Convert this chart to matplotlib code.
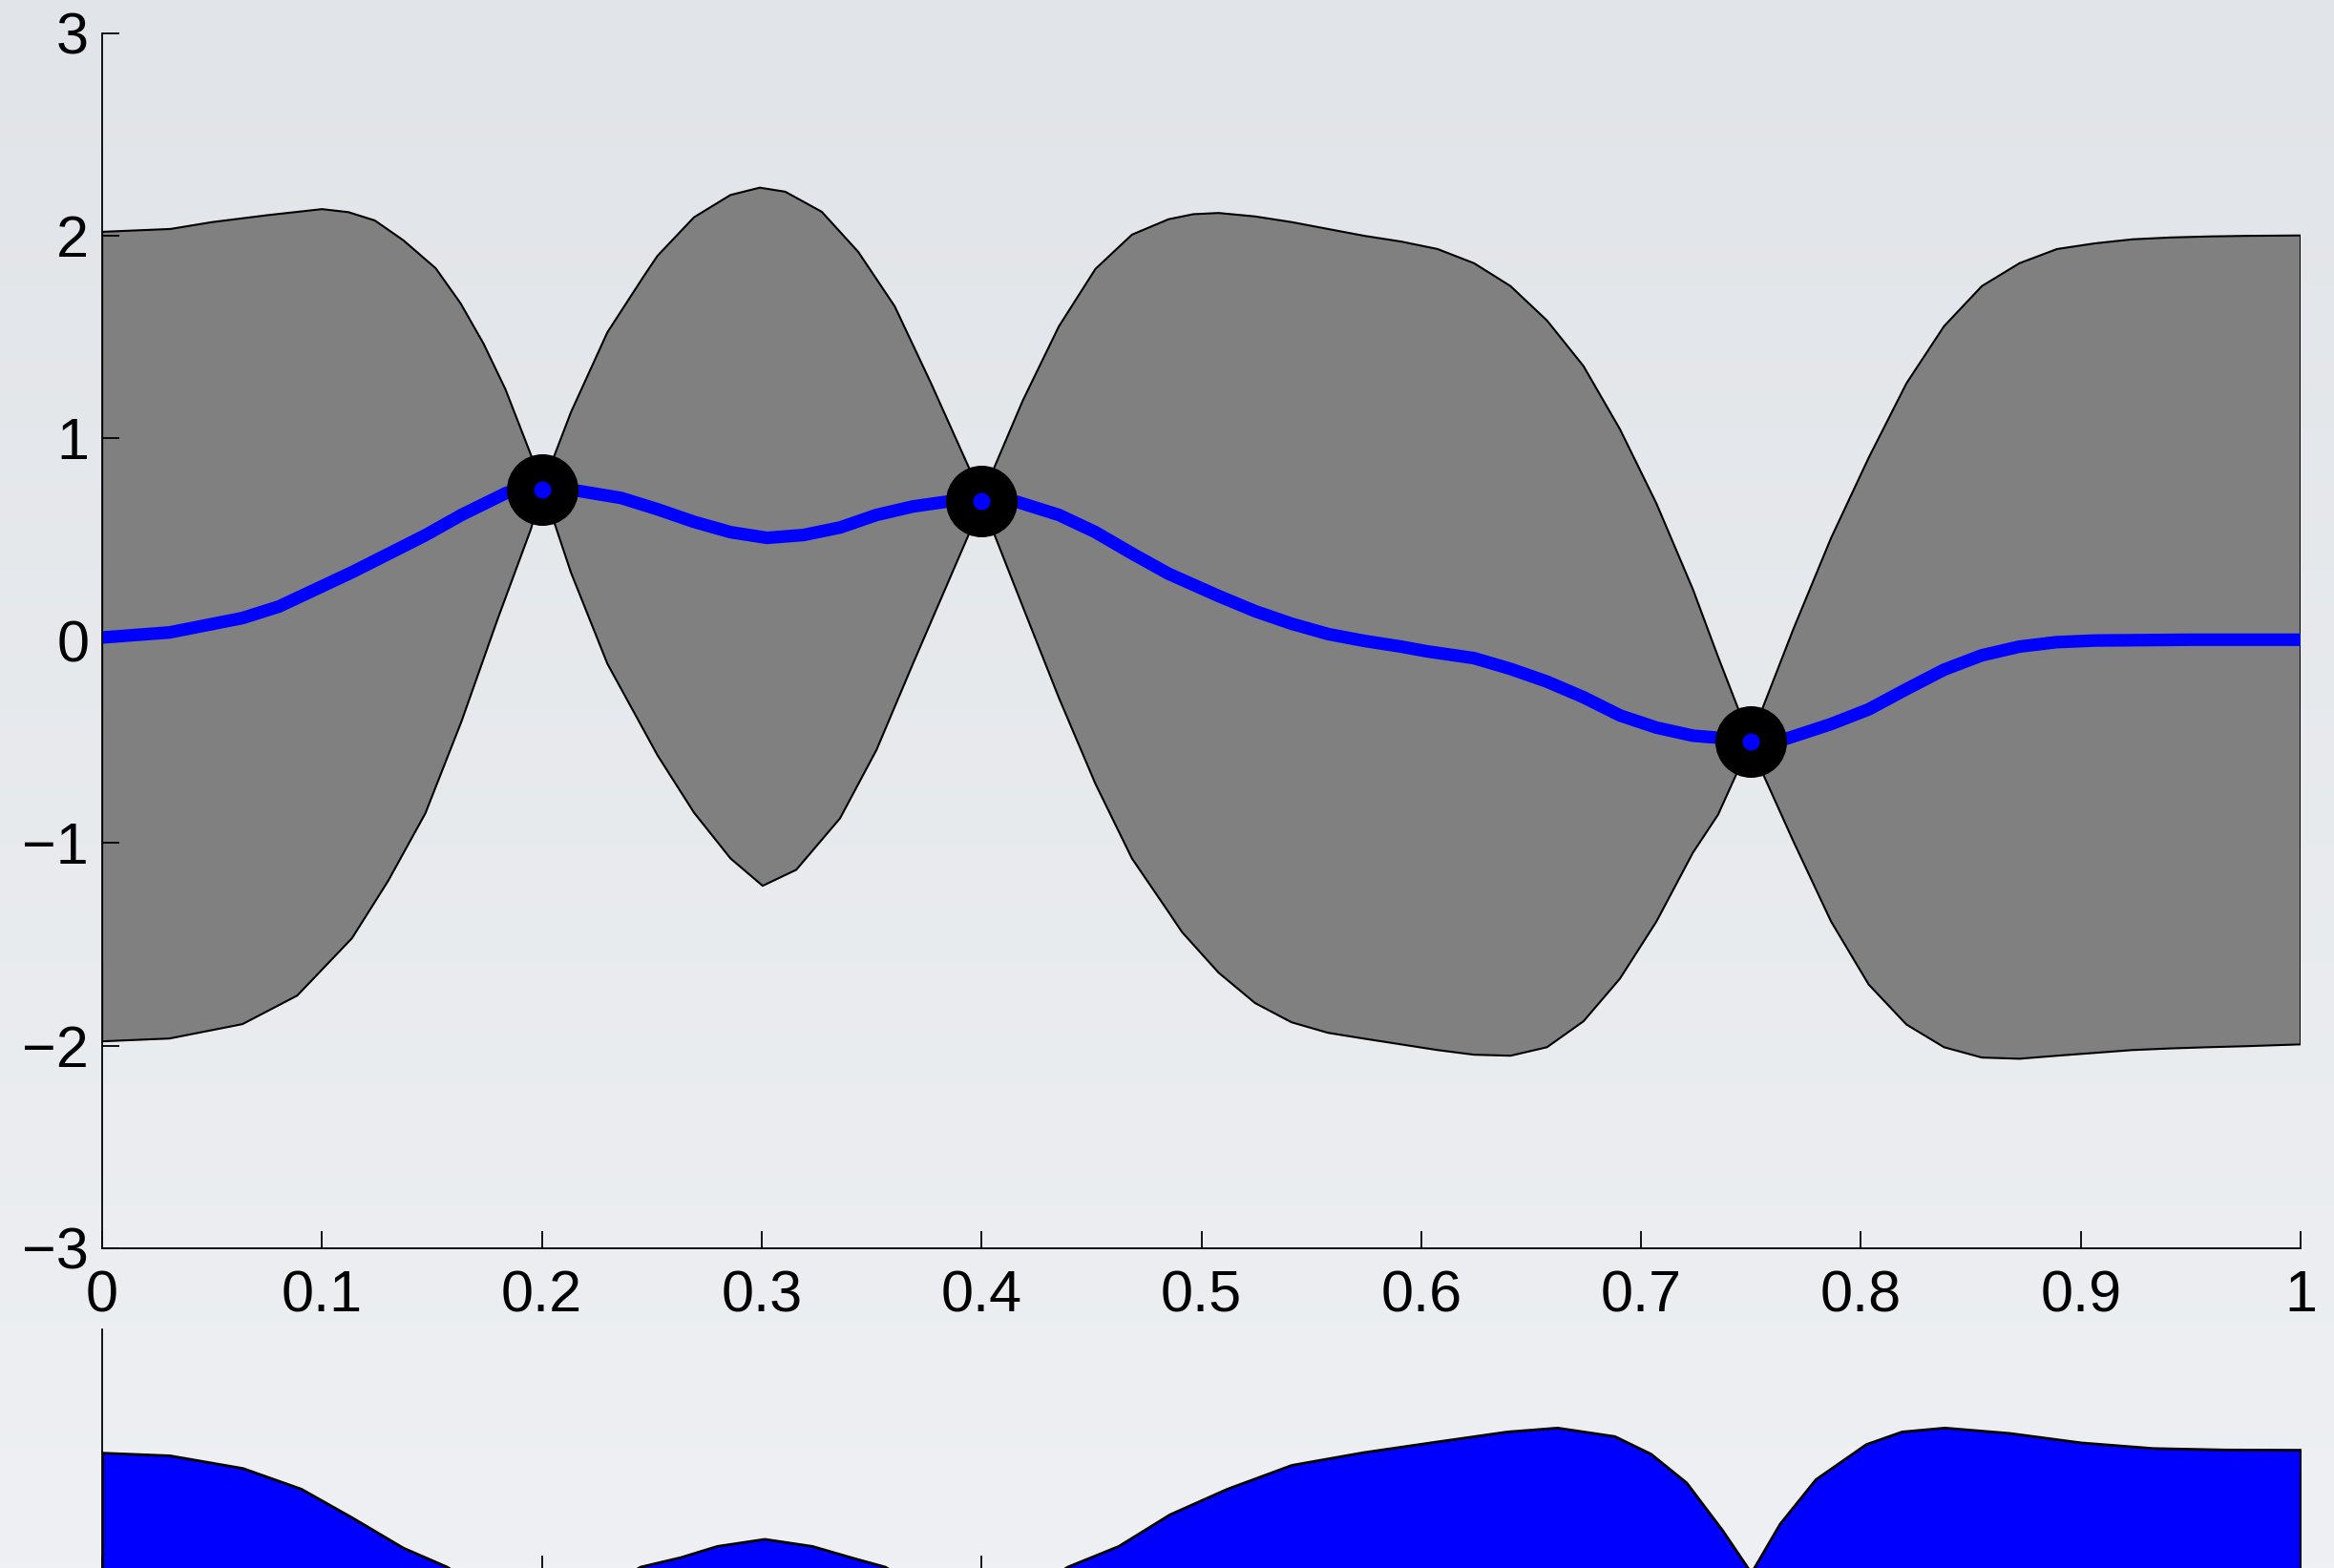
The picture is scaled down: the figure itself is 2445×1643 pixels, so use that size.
import numpy as np
import matplotlib
matplotlib.use("Agg")
import matplotlib.pyplot as plt

plt.rcParams['font.family'] = ['Liberation Sans', 'DejaVu Sans']

# upper edge of the confidence band
xu = [0.0, 0.031, 0.05, 0.075, 0.1, 0.112, 0.124, 0.137, 0.1517, 0.163, 0.1734, 0.1834,
      0.195, 0.2, 0.2058, 0.2132, 0.2298, 0.2464, 0.2526, 0.2692, 0.2858, 0.2991, 0.3107,
      0.3273, 0.3439, 0.3605, 0.3771, 0.3946, 0.4, 0.4054, 0.4187, 0.4352, 0.4518, 0.4684,
      0.485, 0.4963, 0.5078, 0.5244, 0.541, 0.5576, 0.5742, 0.5908, 0.6074, 0.624, 0.6406,
      0.6572, 0.6738, 0.6904, 0.707, 0.7236, 0.735, 0.75, 0.7555, 0.7692, 0.7864, 0.8035,
      0.8207, 0.8378, 0.855, 0.8721, 0.8892, 0.9064, 0.9235, 0.9407, 0.9578, 0.975, 1.0]
yu = [2.018, 2.032, 2.066, 2.10, 2.13, 2.115, 2.074, 1.976, 1.838, 1.665, 1.467, 1.241,
      0.917, 0.745, 0.917, 1.127, 1.522, 1.80, 1.90, 2.09, 2.20, 2.236, 2.216,
      2.117, 1.919, 1.65, 1.268, 0.845, 0.69, 0.845, 1.184, 1.552, 1.835, 2.004,
      2.08, 2.105, 2.111, 2.094, 2.066, 2.032, 1.998, 1.97, 1.933, 1.863, 1.75,
      1.58, 1.355, 1.043, 0.676, 0.252, -0.08, -0.5, -0.327, 0.055, 0.506, 0.902,
      1.27, 1.552, 1.75, 1.863, 1.933, 1.961, 1.981, 1.99, 1.995, 1.998, 2.0]

# lower edge of the confidence band
xl = [0.0, 0.0306, 0.0638, 0.0887, 0.1136, 0.130, 0.147, 0.1634, 0.18, 0.195, 0.2,
      0.2058, 0.2132, 0.2298, 0.2526, 0.2692, 0.2858, 0.3004, 0.3157, 0.3356, 0.3522,
      0.3688, 0.3946, 0.4, 0.4054, 0.4187, 0.4352, 0.4518, 0.4684, 0.485, 0.4912, 0.5078,
      0.5244, 0.541, 0.5576, 0.5742, 0.5908, 0.6074, 0.624, 0.6406, 0.6572, 0.6738, 0.6904,
      0.707, 0.7236, 0.735, 0.75, 0.7555, 0.7692, 0.7864, 0.8035, 0.8207, 0.8378, 0.855,
      0.8721, 0.8892, 0.9064, 0.9235, 0.9407, 0.9578, 0.975, 1.0]
yl = [-1.979, -1.965, -1.894, -1.753, -1.47, -1.188, -0.853, -0.40, 0.11, 0.55, 0.745,
      0.577, 0.336, -0.115, -0.567, -0.85, -1.076, -1.211, -1.132, -0.878, -0.54,
      -0.114, 0.535, 0.69, 0.535, 0.168, -0.284, -0.708, -1.076, -1.34, -1.44, -1.64,
      -1.79, -1.885, -1.937, -1.966, -1.994, -2.022, -2.045, -2.05, -2.008, -1.88, -1.669,
      -1.387, -1.047, -0.86, -0.5, -0.66, -0.99, -1.387, -1.698, -1.896, -2.008, -2.059,
      -2.065, -2.05, -2.036, -2.022, -2.014, -2.008, -2.003, -1.994]

# posterior mean
xm = [0.0, 0.0306, 0.0638, 0.0804, 0.1136, 0.147, 0.1634, 0.184, 0.2, 0.216, 0.236,
      0.2526, 0.2692, 0.2858, 0.3024, 0.319, 0.3356, 0.3522, 0.3688, 0.3837, 0.4, 0.4161,
      0.4352, 0.4518, 0.4684, 0.485, 0.4912, 0.5078, 0.5244, 0.541, 0.5576, 0.5742, 0.5908,
      0.6024, 0.624, 0.6406, 0.6572, 0.6738, 0.6904, 0.707, 0.7236, 0.735, 0.75, 0.766,
      0.786, 0.8035, 0.8207, 0.8378, 0.855, 0.8721, 0.889, 0.9064, 0.95, 1.0]
ym = [0.015, 0.04, 0.111, 0.168, 0.337, 0.52, 0.62, 0.73, 0.745, 0.74, 0.704,
      0.648, 0.586, 0.535, 0.507, 0.521, 0.558, 0.62, 0.662, 0.685, 0.69, 0.685,
      0.62, 0.535, 0.43, 0.33, 0.30, 0.22, 0.145, 0.083, 0.032, -0.002, -0.03,
      -0.053, -0.087, -0.14, -0.203, -0.28, -0.37, -0.43, -0.47, -0.48, -0.5, -0.485,
      -0.414, -0.34, -0.24, -0.144, -0.073, -0.03, -0.008, 0.0, 0.004, 0.004]

# observed points
obs_x = [0.2, 0.4, 0.75]
obs_y = [0.745, 0.69, -0.5]

# lower panel curve
lx = [0.0, 0.0306, 0.0638, 0.0904, 0.1136, 0.1368, 0.1567, 0.175, 0.2, 0.225, 0.2447,
      0.263, 0.2796, 0.3012, 0.3228, 0.3427, 0.356, 0.375, 0.4, 0.42, 0.439, 0.4622,
      0.4855, 0.5116, 0.541, 0.5735, 0.6063, 0.639, 0.6618, 0.6879, 0.7043, 0.7205,
      0.7369, 0.75, 0.763, 0.7793, 0.8022, 0.8185, 0.838, 0.8675, 0.9001, 0.9328,
      0.9654, 1.0]
ly = [0.493, 0.482, 0.430, 0.345, 0.227, 0.103, 0.025, -0.08, -0.3, -0.08, 0.025,
      0.064, 0.11, 0.139, 0.11, 0.058, 0.025, -0.08, -0.3, -0.08, 0.025, 0.11,
      0.24, 0.345, 0.443, 0.495, 0.538, 0.58, 0.596, 0.561, 0.489, 0.371,
      0.175, 0.0, 0.201, 0.384, 0.528, 0.58, 0.596, 0.574, 0.535, 0.512,
      0.506, 0.505]

fig = plt.figure(figsize=(24.45, 16.43), dpi=100)

# background gradient
bg = fig.add_axes([0, 0, 1, 1], zorder=-10)
grad = np.linspace(0, 1, 256).reshape(-1, 1)
bg.imshow(grad, aspect='auto', cmap=matplotlib.colors.LinearSegmentedColormap.from_list(
    'bgc', ['#e1e4e8', '#eef0f3']), extent=[0, 1, 0, 1])
bg.axis('off')

ax = fig.add_axes([0.0438, 0.204, 0.9419, 0.775])
ax.patch.set_alpha(0)
band_x = xu + xl[::-1]
band_y = yu + yl[::-1]
ax.fill(band_x, band_y, facecolor='#808080', edgecolor='black', linewidth=1.5,
        joinstyle='round', zorder=1)
ax.plot(xm, ym, color='#0000ff', linewidth=9.5, zorder=2, solid_capstyle='butt',
        solid_joinstyle='round')
ax.plot(obs_x, obs_y, 'o', color='black', markersize=54, markeredgewidth=0, zorder=3)
ax.plot(obs_x, obs_y, 'o', color='#0000ff', markersize=13, markeredgewidth=0, zorder=4)
ax.set_xlim(0, 1)
ax.set_ylim(-3, 3)
ax.set_xticks(np.arange(0, 1.01, 0.1))
ax.set_xticklabels(['0', '0.1', '0.2', '0.3', '0.4', '0.5', '0.6', '0.7', '0.8', '0.9', '1'])
ax.set_yticks([-3, -2, -1, 0, 1, 2, 3])
ax.spines['top'].set_visible(False)
ax.spines['right'].set_visible(False)
for s in ['left', 'bottom']:
    ax.spines[s].set_linewidth(1.3)
ax.tick_params(direction='in', length=13, width=1.3, labelsize=44)
ax.tick_params(axis='x', pad=16)
ax.tick_params(axis='y', pad=10)

ax2 = fig.add_axes([0.0438, -0.003, 0.9419, 0.1553])
ax2.patch.set_alpha(0)
ax2.fill_between(lx, -1, ly, facecolor='#0000ff', edgecolor='black', linewidth=2,
                 joinstyle='round', zorder=1)
ax2.set_xlim(0, 1)
ax2.set_ylim(0, 1)
ax2.set_xticks(np.arange(0, 1.01, 0.1))
ax2.set_xticklabels([])
ax2.set_yticks([])
ax2.set_axisbelow(True)
ax2.spines['top'].set_visible(False)
ax2.spines['right'].set_visible(False)
ax2.spines['left'].set_linewidth(1.3)
ax2.spines['bottom'].set_linewidth(1.3)
ax2.tick_params(direction='in', length=13, width=1.3)

fig.savefig('out.png', dpi=100)
